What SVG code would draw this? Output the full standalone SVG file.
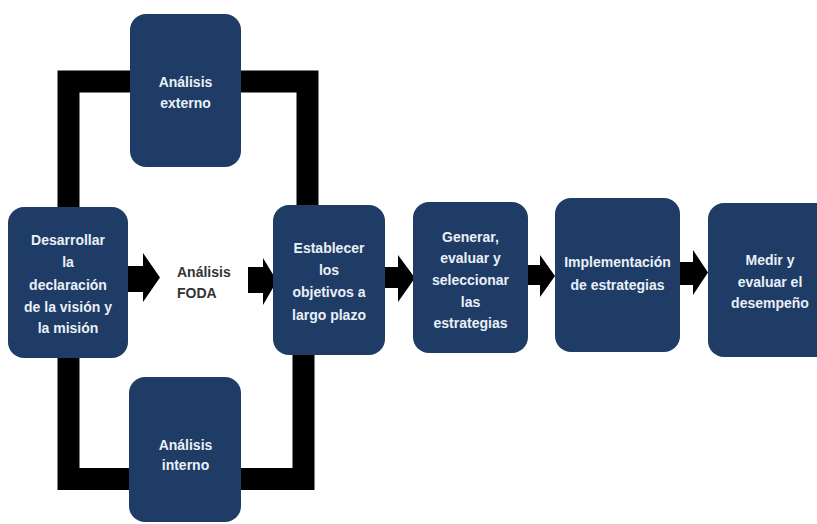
<svg xmlns="http://www.w3.org/2000/svg" width="817" height="524" viewBox="0 0 817 524">
<style>
.box{fill:#1E3C65;}
.t{font-family:"Liberation Sans",Arial,sans-serif;font-weight:bold;font-size:14px;fill:#EAF0F8;text-anchor:middle;}
.f{font-family:"Liberation Sans",Arial,sans-serif;font-weight:bold;font-size:14px;fill:#333333;}
.bar{fill:none;stroke:#000;stroke-width:22;stroke-linejoin:miter;stroke-linecap:butt;}
.arr{fill:#000;}
</style>
<rect width="817" height="524" fill="#fff"/>
<g id="connectors">
<path class="bar" d="M68.5,215 V81.5 H307.5 V212"/>
<path class="bar" d="M68.5,350 V479 H303.5 V348"/>
<polygon class="arr" points="128,266 143,266 143,253 160,277.5 143,302 143,292 128,292"/>
<polygon class="arr" points="248,267 263,267 263,258 277,281 263,305 263,293 248,293"/>
<polygon class="arr" points="383,267 398,267 398,255 415,278 398,302 398,288 383,288"/>
<polygon class="arr" points="525,265 540,265 540,255 555,276 540,297 540,285 525,285"/>
<polygon class="arr" points="680,262 693,262 693,250 708,272.5 693,295 693,285 680,285"/>
</g>
<g id="externo">
<rect class="box" x="130" y="14" width="111" height="153" rx="16"/>
<text class="t" x="185.5" y="87">Análisis</text>
<text class="t" x="185.5" y="108">externo</text>
</g>
<g id="interno">
<rect class="box" x="129" y="377" width="112" height="145" rx="16"/>
<text class="t" x="185.5" y="450">Análisis</text>
<text class="t" x="185.5" y="470">interno</text>
</g>
<g id="desarrollar">
<rect class="box" x="8" y="207" width="120" height="151" rx="16"/>
<text class="t" x="68" y="245">Desarrollar</text>
<text class="t" x="68" y="267">la</text>
<text class="t" x="68" y="290">declaración</text>
<text class="t" x="68" y="312">de la visión y</text>
<text class="t" x="68" y="333">la misión</text>
</g>
<g id="foda">
<text class="f" x="177" y="277">Análisis</text>
<text class="f" x="177" y="298">FODA</text>
</g>
<g id="establecer">
<rect class="box" x="273" y="205" width="112" height="150" rx="16"/>
<text class="t" x="329" y="253">Establecer</text>
<text class="t" x="329" y="275">los</text>
<text class="t" x="329" y="297">objetivos a</text>
<text class="t" x="329" y="320">largo plazo</text>
</g>
<g id="generar">
<rect class="box" x="413" y="202" width="115" height="151" rx="16"/>
<text class="t" x="470.5" y="242">Generar,</text>
<text class="t" x="470.5" y="263">evaluar y</text>
<text class="t" x="470.5" y="285">seleccionar</text>
<text class="t" x="470.5" y="307">las</text>
<text class="t" x="470.5" y="328">estrategias</text>
</g>
<g id="implementacion">
<rect class="box" x="555" y="198" width="125" height="154" rx="16"/>
<text class="t" x="617.5" y="267">Implementación</text>
<text class="t" x="617.5" y="290">de estrategias</text>
</g>
<g id="medir">
<rect class="box" x="708" y="203" width="124" height="154" rx="16"/>
<text class="t" x="770" y="265">Medir y</text>
<text class="t" x="770" y="287">evaluar el</text>
<text class="t" x="770" y="308">desempeño</text>
</g>
</svg>
